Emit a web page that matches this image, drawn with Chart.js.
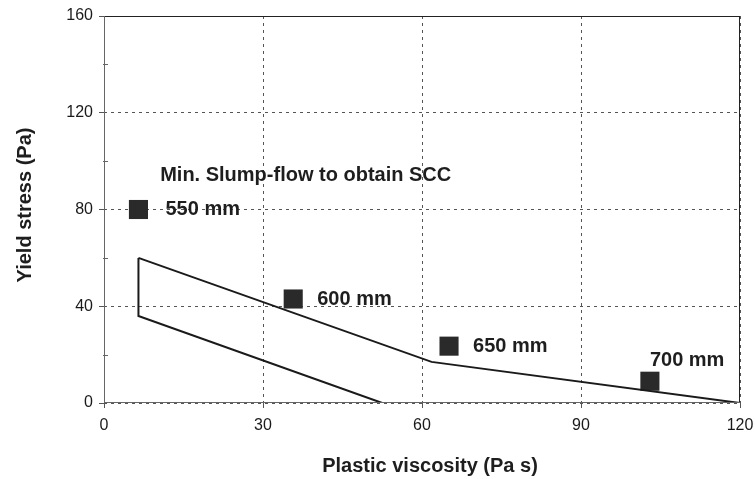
<!DOCTYPE html>
<html><head><meta charset="utf-8">
<script src="https://cdn.jsdelivr.net/npm/chart.js@4/dist/chart.umd.min.js"></script>
<style>html,body{margin:0;padding:0;background:#fff}#wrap{width:755px;height:479px}</style>
</head><body><div id="wrap"><canvas id="c" width="755" height="479"></canvas></div>
<script>
// Region boundary (plastic viscosity, yield stress)
const regionX = [6.5, 6.5, 52.5, 120, 61.8, 6.5];
const regionY = [60, 36, 0, 0, 17, 60];
// Minimum slump-flow markers
const slumpLabels = ['550 mm', '600 mm', '650 mm', '700 mm'];
const slumpX = [6.5, 35.7, 65.1, 103];
const slumpY = [80, 43, 23.5, 9];
const xTicks = [0, 30, 60, 90, 120];
const yTicks = [0, 40, 80, 120, 160];
const yMinorTicks = [20, 60, 100, 140];
const noteText = 'Min. Slump-flow to obtain SCC';
const noteAt = {x: 10.6, y: 94.2};

const regionData = regionX.map((x, i) => ({x, y: regionY[i]}));
const slumpData = slumpX.map((x, i) => ({x, y: slumpY[i], label: slumpLabels[i]}));
const labelOffsets = [[27, 0], [24, 0], [24, 0], [0, -21]];

const FONT = "'Liberation Sans', Arial, sans-serif";

const overlay = {
  id: 'overlay',
  beforeDraw(chart) {
    const ctx = chart.ctx;
    ctx.save(); ctx.fillStyle = '#fff'; ctx.fillRect(0, 0, chart.width, chart.height); ctx.restore();
  },
  afterDatasetsDraw(chart) {
    const ctx = chart.ctx, a = chart.chartArea, xs = chart.scales.x, ys = chart.scales.y;
    ctx.save();
    // frame
    ctx.lineWidth = 1;
    ctx.strokeStyle = '#222';
    ctx.beginPath(); ctx.moveTo(a.left, a.top + 0.5); ctx.lineTo(a.right, a.top + 0.5); ctx.stroke();
    ctx.beginPath(); ctx.moveTo(a.right - 0.5, a.top); ctx.lineTo(a.right - 0.5, a.bottom); ctx.stroke();
    ctx.strokeStyle = '#666';
    ctx.beginPath(); ctx.moveTo(a.left + 0.5, a.top); ctx.lineTo(a.left + 0.5, a.bottom); ctx.stroke();
    ctx.beginPath(); ctx.moveTo(a.left, a.bottom - 0.5); ctx.lineTo(a.right, a.bottom - 0.5); ctx.stroke();
    // minor y ticks
    yMinorTicks.forEach(v => {
      const py = Math.round(ys.getPixelForValue(v)) + 0.5;
      ctx.beginPath(); ctx.moveTo(a.left - 1, py); ctx.lineTo(a.left + 4, py); ctx.stroke();
    });
    // marker labels
    ctx.fillStyle = '#1e1e1e';
    ctx.font = 'bold 20px ' + FONT;
    ctx.textBaseline = 'middle';
    ctx.textAlign = 'left';
    slumpData.forEach((p, i) => {
      const o = labelOffsets[i];
      ctx.fillText(p.label, xs.getPixelForValue(p.x) + o[0], ys.getPixelForValue(p.y) + o[1]);
    });
    ctx.fillText(noteText, xs.getPixelForValue(noteAt.x), ys.getPixelForValue(noteAt.y));
    // axis titles
    ctx.font = 'bold 20px ' + FONT;
    ctx.textAlign = 'center';
    ctx.fillText('Plastic viscosity (Pa s)', 430, 466);
    ctx.translate(25, 205);
    ctx.rotate(-Math.PI / 2);
    ctx.fillText('Yield stress (Pa)', 0, 0);
    ctx.restore();
  }
};

new Chart(document.getElementById('c'), {
  type: 'scatter',
  data: {
    datasets: [
      {
        data: regionData, showLine: true, tension: 0, pointRadius: 0,
        borderColor: '#1a1a1a', borderWidth: 2, fill: false
      },
      {
        data: slumpData, pointStyle: 'rect', pointRadius: 13.5,
        backgroundColor: '#2a2a2a', borderColor: '#2a2a2a', borderWidth: 0
      }
    ]
  },
  plugins: [overlay],
  options: {
    responsive: false, animation: false, devicePixelRatio: 1,
    layout: {padding: {left: 0, right: 15, top: 16, bottom: 0}},
    plugins: {legend: {display: false}, tooltip: {enabled: false}},
    scales: {
      x: {
        type: 'linear', min: 0, max: 120,
        afterBuildTicks: s => { s.ticks = xTicks.map(v => ({value: v})); },
        afterFit: s => { s.height = 76; s.paddingLeft = 0; s.paddingRight = 0; },
        grid: {color: '#555', lineWidth: 1, tickLength: 5, drawTicks: true, tickColor: '#555'},
        border: {display: false, dash: [3, 4]},
        ticks: {color: '#1a1a1a', font: {family: FONT, size: 16}, padding: 8, maxRotation: 0}
      },
      y: {
        type: 'linear', min: 0, max: 160,
        afterBuildTicks: s => { s.ticks = yTicks.map(v => ({value: v})); },
        afterFit: s => { s.width = 104; s.paddingTop = 0; s.paddingBottom = 0; },
        grid: {color: '#555', lineWidth: 1, tickLength: 5, drawTicks: true, tickColor: '#555'},
        border: {display: false, dash: [3, 4]},
        ticks: {color: '#1a1a1a', font: {family: FONT, size: 16}, padding: 6}
      }
    }
  }
});
</script></body></html>
